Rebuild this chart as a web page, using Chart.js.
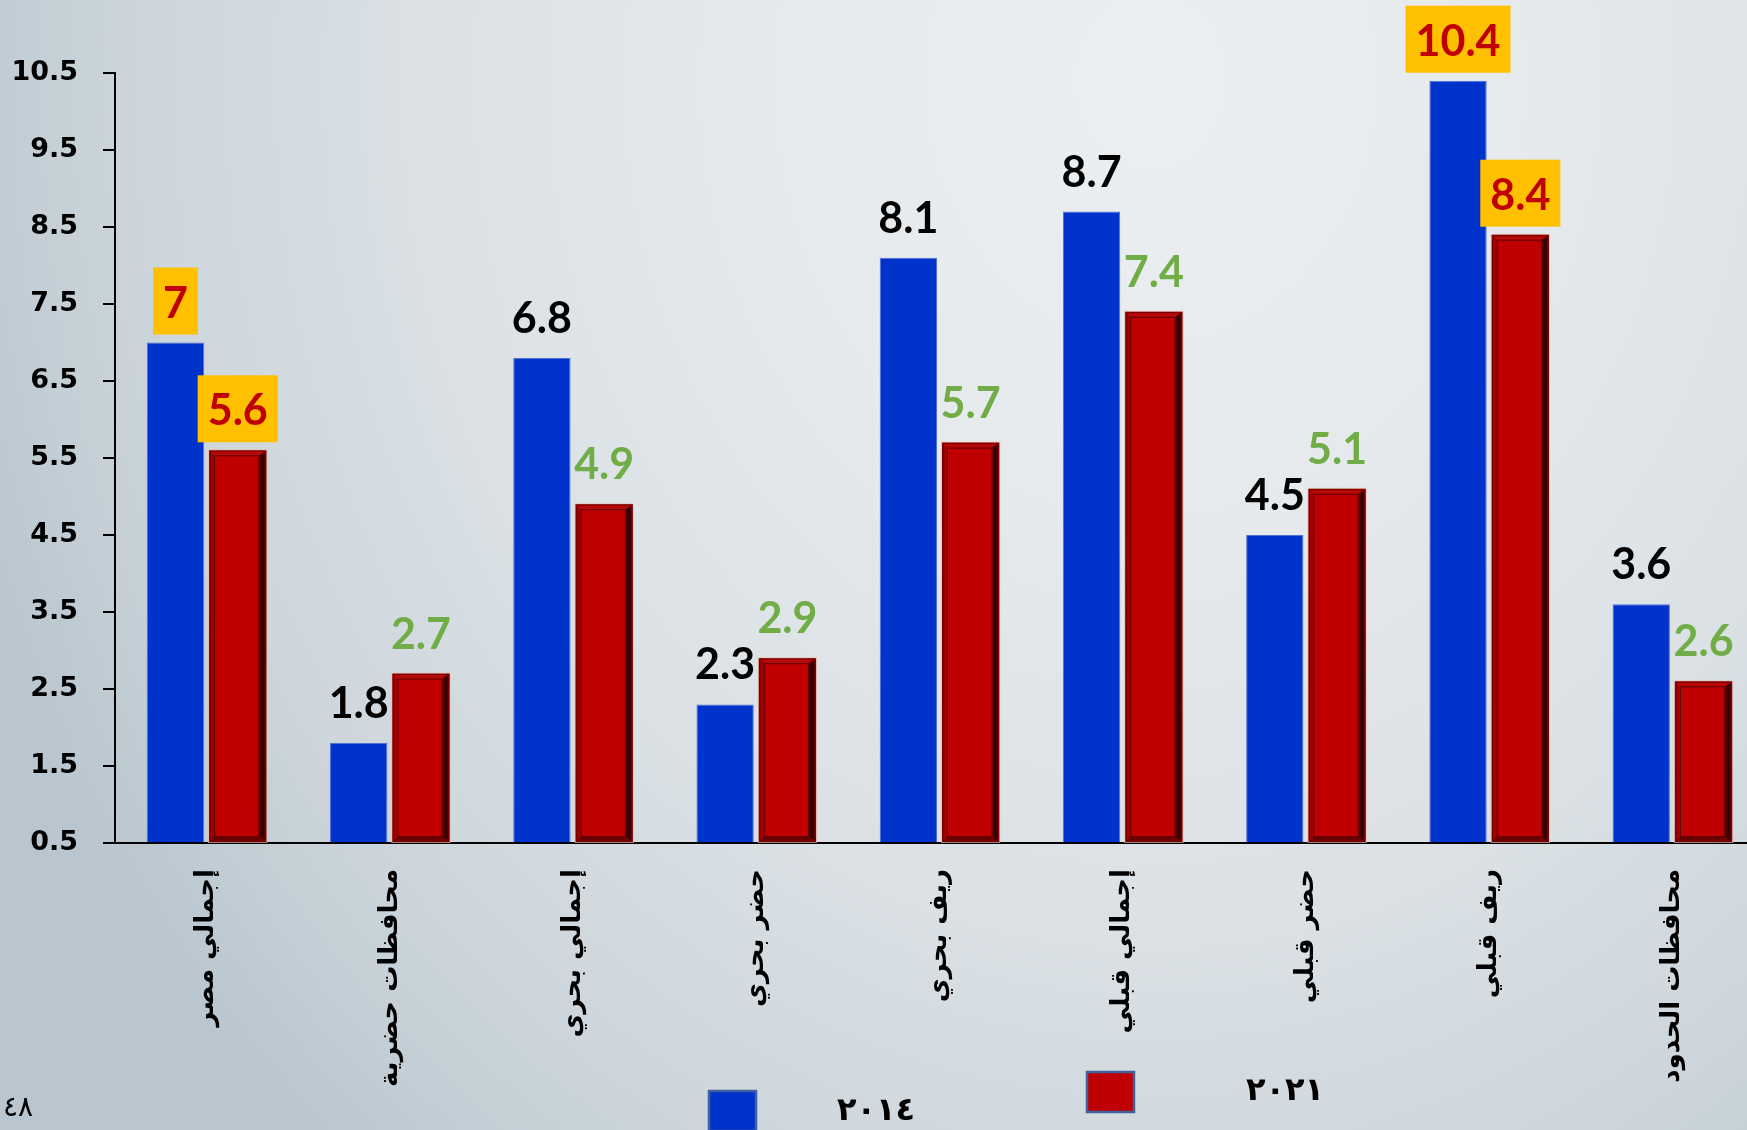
<!DOCTYPE html>
<html>
<head>
<meta charset="utf-8">
<script src="https://cdn.jsdelivr.net/npm/chart.js@4.4.1/dist/chart.umd.min.js"></script>
<style>
  html, body { margin: 0; padding: 0; width: 1747px; height: 1130px; overflow: hidden; }
  body {
    background: radial-gradient(ellipse 1250px 1450px at 1150px 80px,
      #eceff2 0%, #e6eaed 30%, #dae0e4 60%, #cdd6dc 80%, #b9c6cf 100%);
  }
  #wrap { position: absolute; left: 0; top: 0; width: 1764px; height: 1130px; }
</style>
</head>
<body>
<div id="wrap"><canvas id="c" width="1764" height="1130"></canvas></div>
<script>
// ---------- data ----------
const categories = ['إجمالي مصر', 'محافظات حضرية', 'إجمالي بحري', 'حضر بحري', 'ريف بحري', 'إجمالي قبلي', 'حضر قبلي', 'ريف قبلي', 'محافظات الحدود'];
const seriesNames = ['٢٠١٤', '٢٠٢١'];
const values2014 = [7, 1.8, 6.8, 2.3, 8.1, 8.7, 4.5, 10.4, 3.6];
const values2021 = [5.6, 2.7, 4.9, 2.9, 5.7, 7.4, 5.1, 8.4, 2.6];
const yTickValues = [0.5, 1.5, 2.5, 3.5, 4.5, 5.5, 6.5, 7.5, 8.5, 9.5, 10.5];
const yTickLabels = ['0.5', '1.5', '2.5', '3.5', '4.5', '5.5', '6.5', '7.5', '8.5', '9.5', '10.5'];
const highlighted2014 = [0, 7];   // indices shown with a yellow box
const highlighted2021 = [0, 7];
const pageNumber = '٤٨';

// ---------- styles ----------
const BLUE = '#0033CC';
const RED = '#C00000';

function poly(ctx, pts, fill) {
  ctx.beginPath();
  ctx.moveTo(pts[0][0], pts[0][1]);
  for (let i = 1; i < pts.length; i++) ctx.lineTo(pts[i][0], pts[i][1]);
  ctx.closePath();
  ctx.fillStyle = fill;
  ctx.fill();
}

const bevelPlugin = {
  id: 'bevel',
  afterDatasetsDraw(chart) {
    const ctx = chart.ctx;
    const meta = chart.getDatasetMeta(1);
    meta.data.forEach(bar => {
      const p = bar.getProps(['x', 'y', 'base', 'width'], true);
      const L = p.x - p.width / 2, R = p.x + p.width / 2, T = p.y, B = p.base;
      const b = 5, br = 7;
      ctx.save();
      poly(ctx, [[L, T], [R, T], [R - br, T + b], [L + b, T + b]], '#b80808');
      poly(ctx, [[L, T], [L + b, T + b], [L + b, B - b], [L, B]], '#a00000');
      const g = ctx.createLinearGradient(R - br, 0, R, 0);
      g.addColorStop(0, '#5a0000');
      g.addColorStop(0.5, '#2a0000');
      g.addColorStop(1, '#7a0000');
      poly(ctx, [[R, T], [R, B], [R - br, B - b], [R - br, T + b]], g);
      poly(ctx, [[L, B], [R, B], [R - br, B - b], [L + b, B - b]], '#6a0000');
      ctx.lineWidth = 1.5;
      ctx.strokeStyle = '#7a0000';
      ctx.strokeRect(L + 0.75, T + 0.75, p.width - 1.5, B - T - 1.5);
      ctx.lineWidth = 1;
      ctx.strokeStyle = 'rgba(70,0,0,0.85)';
      ctx.strokeRect(L + b + 0.5, T + b + 0.5, p.width - b - br - 1, B - T - 2 * b - 1);
      ctx.strokeStyle = 'rgba(230,190,180,0.7)';
      ctx.strokeRect(L - 0.5, T - 0.5, p.width + 1, B - T + 1);
      ctx.restore();
    });
  }
};

const labelPlugin = {
  id: 'valueLabels',
  afterDatasetsDraw(chart) {
    const ctx = chart.ctx;
    const conf = [
      { color: '#000000', hl: highlighted2014 },
      { color: '#70AD47', hl: highlighted2021 }
    ];
    ctx.save();
    ctx.font = 'bold 43px Lato';
    ctx.textAlign = 'center';
    ctx.textBaseline = 'alphabetic';
    chart.data.datasets.forEach((ds, di) => {
      const meta = chart.getDatasetMeta(di);
      meta.data.forEach((bar, i) => {
        const txt = String(ds.data[i]);
        const tw = ctx.measureText(txt).width;
        const baseY = bar.y - 25;
        if (conf[di].hl.includes(i)) {
          ctx.fillStyle = '#FFC000';
          ctx.fillRect(bar.x - tw / 2 - 10, baseY - 50, tw + 20, 67);
          ctx.fillStyle = '#C00000';
        } else {
          ctx.fillStyle = conf[di].color;
        }
        ctx.fillText(txt, bar.x, baseY);
      });
    });
    ctx.restore();
  }
};

const legendPlugin = {
  id: 'customLegend',
  afterDraw(chart) {
    const ctx = chart.ctx;
    const items = [
      { sx: 709, sy: 1091, tx: 837, ty: 1120 },
      { sx: 1087, sy: 1072, tx: 1246, ty: 1100 }
    ];
    ctx.save();
    chart.data.datasets.forEach((ds, i) => {
      const it = items[i];
      ctx.fillStyle = ds.backgroundColor;
      ctx.fillRect(it.sx, it.sy, 47, 40);
      ctx.lineWidth = 2.5;
      ctx.strokeStyle = '#41609e';
      ctx.strokeRect(it.sx, it.sy, 47, 40);
      ctx.fillStyle = '#000';
      ctx.font = 'bold 32px "DejaVu Sans"';
      ctx.textAlign = 'left';
      ctx.textBaseline = 'alphabetic';
      ctx.fillText(ds.label, it.tx, it.ty);
    });
    ctx.font = '28px "DejaVu Sans"';
    ctx.textAlign = 'right';
    ctx.fillText(pageNumber, 33, 1116);
    ctx.restore();
  }
};

new Chart(document.getElementById('c'), {
  type: 'bar',
  data: {
    labels: categories,
    datasets: [
      {
        label: seriesNames[0], data: values2014, base: 0.5,
        backgroundColor: BLUE, borderColor: '#4f70d6', borderWidth: 1,
        barPercentage: 0.92, categoryPercentage: 0.68
      },
      {
        label: seriesNames[1], data: values2021, base: 0.5,
        backgroundColor: RED, borderWidth: 0,
        barPercentage: 0.92, categoryPercentage: 0.68
      }
    ]
  },
  options: {
    responsive: false,
    animation: false,
    layout: { padding: { top: 73, left: 0, right: 0, bottom: 0 } },
    plugins: { legend: { display: false }, tooltip: { enabled: false } },
    scales: {
      x: {
        grid: { display: false, drawTicks: false },
        border: { display: true, color: '#000', width: 2 },
        ticks: {
          autoSkip: false, minRotation: 90, maxRotation: 90, padding: 26,
          color: '#000', font: { family: 'DejaVu Sans', weight: 'bold', size: 26 }
        },
        afterFit(s) { s.height = 287; }
      },
      y: {
        min: 0.5, max: 10.5,
        afterBuildTicks(s) { s.ticks = yTickValues.map(v => ({ value: v })); },
        ticks: {
          callback: (v, i) => yTickLabels[i],
          padding: 25, color: '#000',
          font: { family: 'DejaVu Sans', weight: 'bold', size: 27 }
        },
        grid: { drawOnChartArea: false, drawTicks: true, tickLength: 12, color: '#000', lineWidth: 2 },
        border: { color: '#000', width: 2 },
        afterFit(s) { s.width = 115; }
      }
    }
  },
  plugins: [bevelPlugin, labelPlugin, legendPlugin]
});
</script>
</body>
</html>
